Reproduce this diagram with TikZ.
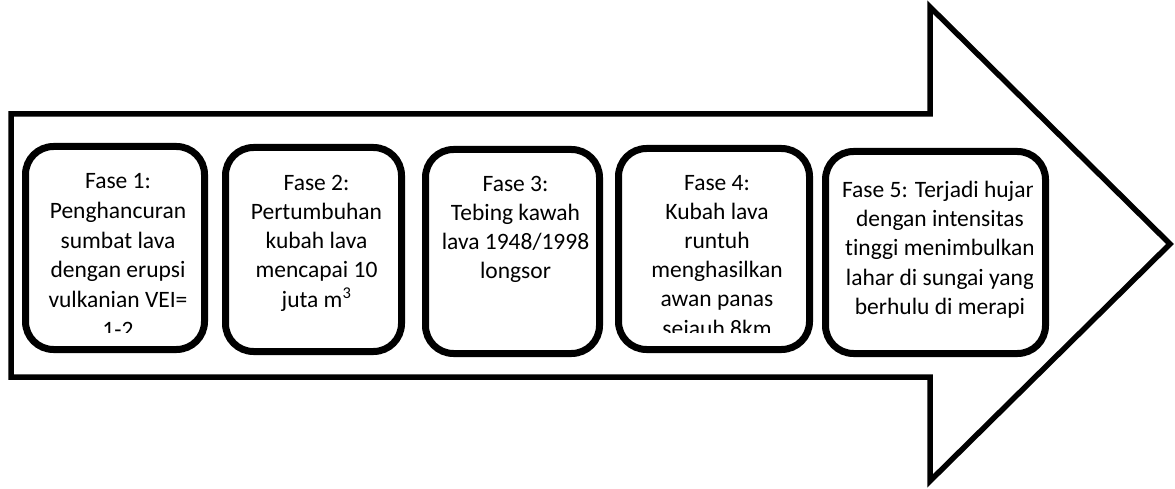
\documentclass[tikz,border=0pt]{standalone}
\usepackage{fontspec}
\setmainfont{Carlito}[Ligatures=NoCommon]
\usepackage{tikz}

\tikzset{
	fasebox/.style={draw, line width=7pt, rounded corners=28pt, inner sep=0pt, outer sep=0pt},
	fasetext/.style={anchor=north, align=center, inner sep=0pt, font=\fontsize{23.5}{29.2}\selectfont}
}

\begin{document}
\begin{tikzpicture}[line join=miter]
		\useasboundingbox (0,0) rectangle (1175pt,488pt);
		
		% Arrow
		\draw[line width=5.5pt] (11pt,374pt) -- (930pt,374pt) -- (930pt,481pt) -- (1170pt,244pt) -- (930pt,7pt) -- (930pt,111pt) -- (11pt,111pt) -- cycle;
		
		% Boxes
		\node[fasebox, minimum width=179pt, minimum height=203pt] (fase1) at (115pt,240pt) {};
		\node[fasebox, minimum width=176pt, minimum height=204pt] (fase2) at (313.5pt,238.5pt) {};
		\node[fasebox, minimum width=174pt, minimum height=204pt] (fase3) at (512.5pt,236.5pt) {};
		\node[fasebox, minimum width=191pt, minimum height=201pt] (fase4) at (714pt,239pt) {};
		\node[fasebox, minimum width=220pt, minimum height=202pt] (fase5) at (935.5pt,235.5pt) {};
		
		% Text
		\begin{scope}
			\clip ([xshift=8pt,yshift=17pt]fase1.south west) rectangle ([xshift=-8pt]fase1.north east);
			\node[fasetext, font=\fontsize{23.5}{29.8}\selectfont] (t1) at ([xshift=3pt,yshift=-26.7pt]fase1.north) {Fase 1:\\Penghancuran\\sumbat lava\\dengan erupsi\\vulkanian VEI=\\1-2};
		\end{scope}
		\begin{scope}
			\clip ([xshift=8pt,yshift=17pt]fase2.south west) rectangle ([xshift=-8pt]fase2.north east);
			\node[fasetext] (t2) at ([xshift=3pt,yshift=-27.4pt]fase2.north) {Fase 2:\\Pertumbuhan\\kubah lava\\mencapai 10\\juta m\textsuperscript{3}};
		\end{scope}
		\begin{scope}
			\clip ([xshift=8pt,yshift=17pt]fase3.south west) rectangle ([xshift=-8pt]fase3.north east);
			\node[fasetext] (t3) at ([xshift=3pt,yshift=-26.4pt]fase3.north) {Fase 3:\\Tebing kawah\\lava 1948/1998\\longsor};
		\end{scope}
		\begin{scope}
			\clip ([xshift=8pt,yshift=17.5pt]fase4.south west) rectangle ([xshift=-8pt]fase4.north east);
			\node[fasetext] (t4) at ([xshift=3pt,yshift=-26.4pt]fase4.north) {Fase 4:\\Kubah lava\\runtuh\\menghasilkan\\awan panas\\sejauh 8km};
		\end{scope}
		\begin{scope}
			\clip ([xshift=13pt,yshift=17pt]fase5.south west) rectangle ([xshift=-13.5pt]fase5.north east);
			\node[fasetext] (t5) at ([xshift=4.5pt,yshift=-29.5pt]fase5.north) {Fase 5: Terjadi hujan\\dengan intensitas\\tinggi menimbulkan\\lahar di sungai yang\\berhulu di merapi};
		\end{scope}
	\end{tikzpicture}
\end{document}
